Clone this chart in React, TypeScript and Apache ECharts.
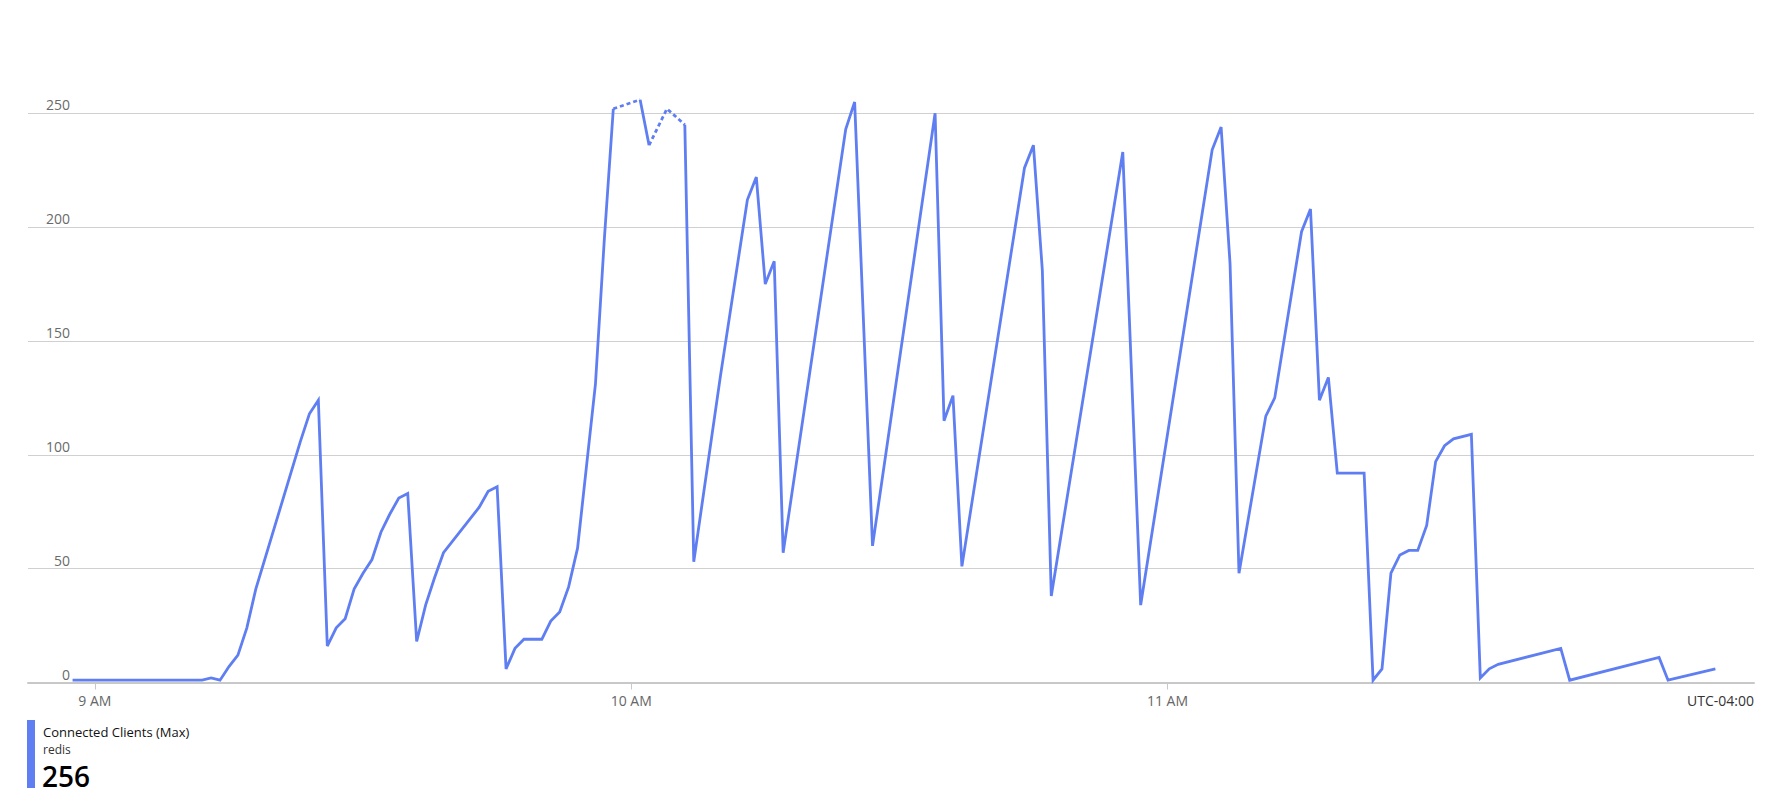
import React, { useEffect, useRef } from "react";
import * as echarts from "echarts";

// Minutes relative to 9:00 AM (local, UTC-04:00)
const minutes = [
  -2.5, 12, 13, 14, 15, 16, 17, 18, 23, 24, 25, 26, 27, 28, 29, 30, 31, 32, 33, 34, 35,
  36, 37, 38, 39, 43, 44, 45, 46, 47, 48, 49, 50, 51, 52, 53, 54, 55, 56, 57, 58, 59,
  61, 62, 63, 64, 65, 66, 67, 70, 73, 74, 75, 76, 77, 84, 85, 87, 94, 95, 96, 97,
  104, 105, 106, 107, 115, 117, 125, 126, 127, 128, 131, 132, 135, 136, 137, 138,
  139, 142, 143, 144, 145, 146, 147, 148, 149, 150, 151, 152, 154, 155, 156, 157,
  164, 165, 175, 176, 181.3,
];

// Connected clients (max); null = missing sample (bridged with a dashed line)
const clients: (number | null)[] = [
  1, 1, 2, 1, 7, 12, 24, 41, 106, 118, 124, 16, 24, 28, 41, 48, 54, 66, 74, 81, 83,
  18, 34, 46, 57, 77, 84, 86, 6, 15, 19, 19, 19, 27, 31, 42, 59, 95, 131, 195, 252, null,
  256, 236, null, 252, null, 245, 53, 135, 212, 222, 175, 185, 57, 243, 255, 60, 250, 115, 126, 51,
  226, 236, 181, 38, 233, 34, 234, 244, 184, 48, 117, 125, 198, 208, 124, 134,
  92, 92, 1, 6, 48, 56, 58, 58, 69, 97, 104, 107, 109, 2, 6, 8,
  15, 1, 11, 1, 6,
];

const xTickMinutes = [0, 60, 120];
const xTickLabels = ["9 AM", "10 AM", "11 AM"];
const yTicks = [0, 50, 100, 150, 200, 250];
const seriesName = "Connected Clients (Max)";
const resourceName = "redis";
const timeZoneLabel = "UTC-04:00";

const LINE_COLOR = "#5f7ef2";
const FONT = "'Segoe UI', 'Open Sans', sans-serif";

export default function App() {
  const ref = useRef<HTMLDivElement>(null);

  useEffect(() => {
    if (!ref.current) return;
    const chart = echarts.init(ref.current, undefined, { renderer: "svg" });

    const solid = minutes.map((m, i) => [m, clients[i]]);

    // Build dashed bridges across missing samples
    const dashed: any[] = [];
    let lastEnd = -1;
    for (let k = 0; k < minutes.length; k++) {
      if (clients[k] == null) {
        let p = k - 1;
        while (p >= 0 && clients[p] == null) p--;
        let n = k + 1;
        while (n < minutes.length && clients[n] == null) n++;
        if (p >= 0 && n < minutes.length) {
          if (lastEnd !== p) {
            if (dashed.length) dashed.push([minutes[p], null]);
            dashed.push([minutes[p], clients[p]]);
          }
          dashed.push([minutes[n], clients[n]]);
          lastEnd = n;
        }
        k = n - 1;
      }
    }

    const maxVal = Math.round(
      Math.max(...(clients.filter((v) => v != null) as number[]))
    );

    chart.setOption({
      animation: false,
      backgroundColor: "#ffffff",
      textStyle: { fontFamily: FONT },
      grid: {
        left: 28,
        right: 12,
        top: 56.4,
        bottom: 124.5,
        containLabel: false,
        outerBoundsMode: "none",
      },
      xAxis: {
        type: "value",
        min: -7.485,
        max: 185.62,
        axisLine: { show: true, lineStyle: { color: "#c8c8c8", width: 2 } },
        axisTick: {
          show: true,
          customValues: xTickMinutes,
          length: 7,
          lineStyle: { color: "#c8c8c8", width: 1 },
        },
        axisLabel: {
          customValues: xTickMinutes,
          formatter: (v: number) => {
            const idx = xTickMinutes.indexOf(Math.round(v));
            return idx >= 0 ? xTickLabels[idx] : "";
          },
          color: "#666666",
          fontSize: 14,
          fontFamily: FONT,
          margin: 11,
        },
        splitLine: { show: false },
      },
      yAxis: {
        type: "value",
        min: 0,
        max: 275,
        interval: 50,
        axisLine: { show: false },
        axisTick: { show: false },
        splitLine: {
          show: true,
          showMaxLine: false,
          lineStyle: { color: "#d0d0d0", width: 1 },
        },
        axisLabel: {
          inside: true,
          margin: 42,
          align: "right",
          verticalAlign: "bottom",
          lineHeight: 17,
          color: "#6a6a6a",
          fontSize: 14,
          fontFamily: FONT,
          showMaxLabel: false,
          formatter: (v: number) => (yTicks.indexOf(v) >= 0 ? String(v) : ""),
        },
      },
      series: [
        {
          name: seriesName,
          type: "line",
          data: solid,
          showSymbol: false,
          connectNulls: false,
          silent: true,
          lineStyle: { color: LINE_COLOR, width: 2.8, join: "miter", miterLimit: 4 },
          z: 3,
        },
        {
          name: seriesName + " (gap)",
          type: "line",
          data: dashed,
          showSymbol: false,
          connectNulls: false,
          silent: true,
          lineStyle: { color: LINE_COLOR, width: 2.8, type: [4, 3] },
          z: 3,
        },
      ],
      graphic: [
        {
          type: "text",
          right: 12,
          top: 693,
          style: {
            text: timeZoneLabel,
            fontSize: 14,
            fill: "#333333",
            fontFamily: FONT,
          },
        },
        {
          type: "rect",
          x: 27,
          y: 720,
          shape: { width: 8, height: 68 },
          style: { fill: LINE_COLOR },
        },
        {
          type: "text",
          x: 43,
          y: 732,
          style: {
            text: seriesName,
            fontSize: 13,
            fill: "#111111",
            fontFamily: FONT,
            verticalAlign: "middle",
          },
        },
        {
          type: "text",
          x: 43,
          y: 749,
          style: {
            text: resourceName,
            fontSize: 12,
            fill: "#333333",
            fontFamily: FONT,
            verticalAlign: "middle",
          },
        },
        {
          type: "text",
          x: 42,
          y: 776,
          style: {
            text: String(maxVal),
            fontSize: 28,
            fontWeight: 600,
            fill: "#000000",
            fontFamily: FONT,
            verticalAlign: "middle",
          },
        },
      ],
    });

    return () => chart.dispose();
  }, []);

  return (
    <div
      ref={ref}
      style={{
        position: "fixed",
        left: 0,
        top: 0,
        width: 1766,
        height: 807,
        background: "#ffffff",
      }}
    />
  );
}
